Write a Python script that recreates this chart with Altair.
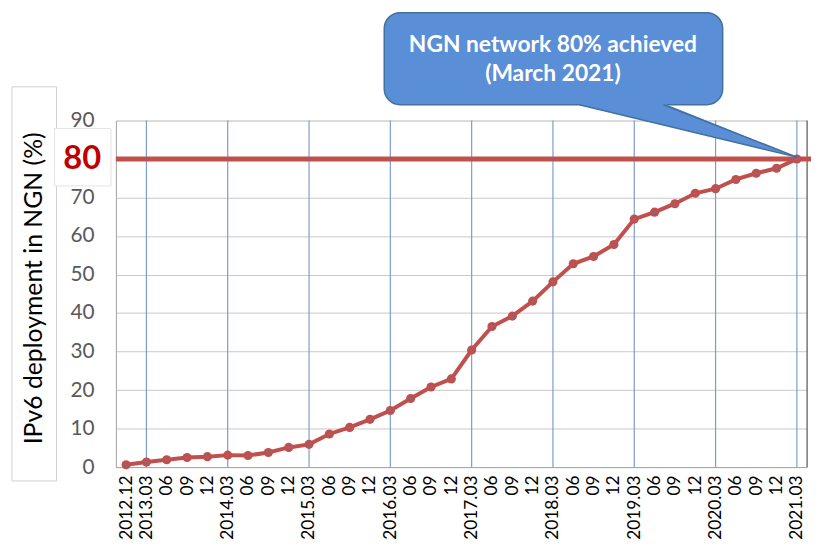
import json
import altair as alt
import pandas as pd

# ---------------- data ----------------
quarters = ["2012.12", "2013.03", "06", "09", "12", "2014.03", "06", "09", "12",
            "2015.03", "06", "09", "12", "2016.03", "06", "09", "12",
            "2017.03", "06", "09", "12", "2018.03", "06", "09", "12",
            "2019.03", "06", "09", "12", "2020.03", "06", "09", "12", "2021.03"]
deployment = [0.6, 1.3, 1.9, 2.5, 2.7, 3.1, 3.0, 3.8, 5.1, 5.9, 8.6, 10.3, 12.4, 14.7,
              17.8, 20.8, 22.9, 30.4, 36.5, 39.2, 43.1, 48.1, 52.8, 54.7, 57.8, 64.4,
              66.2, 68.4, 71.1, 72.3, 74.7, 76.3, 77.6, 80.0]
march_idx = [1, 5, 9, 13, 17, 21, 25, 29, 33]
target = 80
y_ticks = [0, 10, 20, 30, 40, 50, 60, 70, 80, 90]
callout_lines = ["NGN network 80% achieved", "(March 2021)"]
y_title = "IPv6 deployment in NGN (%)"

df = pd.DataFrame({"idx": list(range(len(quarters))), "value": deployment})

W, H = 698, 350
RED = "#C0504D"
FONT = "Lato"

label_expr = json.dumps(quarters) + "[datum.value]"
xscale = alt.Scale(domain=[-0.5, len(quarters) - 0.5], nice=False, zero=False)
yscale = alt.Scale(domain=[0, 90], nice=False)

x_axis = alt.Axis(values=list(range(len(quarters))), labelExpr=label_expr,
                  labelAngle=270, labelFontSize=17.5, labelColor="#000000",
                  labelFont=FONT, ticks=False, grid=False, labelPadding=8,
                  domainColor="#A6A6A6", title=None, labelOverlap=False,
                  labelFlush=False, labelBound=False)
y_axis = alt.Axis(values=y_ticks, labelExpr="datum.value == 80 ? '' : datum.label",
                  labelFontSize=21, labelColor="#595959", labelFont=FONT,
                  ticks=False, labelPadding=22, gridColor="#C8C8C8", grid=True,
                  domainColor="#A6A6A6", title=y_title, titleFont=FONT,
                  titleFontSize=25, titleFontWeight="normal", titleColor="#000000",
                  titleX=-83, titleY=169, titleAngle=270, titleAlign="center",
                  titleBaseline="middle", labelOverlap=False, labelFlush=False)


def X(field):
    return alt.X(field, type="quantitative", scale=xscale, axis=x_axis)


def Y(field):
    return alt.Y(field, type="quantitative", scale=yscale, axis=y_axis)


base = alt.Chart(df)

vgrid = alt.Chart(pd.DataFrame({"idx": march_idx})).mark_rule(
    color="#7C9CCB", strokeWidth=1.2).encode(x=X("idx"))

right_border = alt.Chart(pd.DataFrame({"idx": [len(quarters) - 0.5]})).mark_rule(
    color="#404040", strokeWidth=1).encode(x=X("idx"))

target_rule = alt.Chart(pd.DataFrame({"value": [target]})).mark_rule(
    color=RED, strokeWidth=5).encode(y=Y("value"), x=alt.value(0), x2=alt.value(W + 4))

line = base.mark_line(color=RED, strokeWidth=4).encode(x=X("idx"), y=Y("value"))
pts = base.mark_point(filled=True, color=RED, size=85, opacity=1).encode(
    x=X("idx"), y=Y("value"))
dots = base.mark_point(filled=True, color="#4F81BD", size=3, opacity=1).encode(
    x=X("idx"), y=Y("value"))

# callout (data coordinates)
box = alt.Chart(pd.DataFrame({"x": [12.7], "x2": [29.35], "y": [118.0], "y2": [94.1]})).mark_rect(
    fill="#5A8ED6", stroke="#41719C", strokeWidth=1.5, cornerRadius=16).encode(
    x=X("x"), x2="x2:Q", y=Y("y"), y2="y2:Q")

ptr = alt.Chart(pd.DataFrame({"x": [22.3, 26.44, 33.0],
                              "top": [94.5, 94.5, 80.5],
                              "bot": [94.1, 88.84, 80.5]})).mark_area(
    color="#5A8ED6", opacity=1).encode(x=X("x"), y=Y("top"), y2="bot:Q")

ptr_edges = alt.Chart(pd.DataFrame({"x": [22.3, 26.44], "y": [94.1, 94.1],
                                    "x2": [33.0, 33.0], "y2": [80.5, 80.5]})).mark_rule(
    color="#41719C", strokeWidth=1.5).encode(x=X("x"), x2="x2:Q", y=Y("y"), y2="y2:Q")

callout_text = alt.Chart(pd.DataFrame({"x": [21.0, 21.0], "y": [109.5, 102.1],
                                       "t": callout_lines})).mark_text(
    color="white", font=FONT, fontSize=23, fontWeight="bold", baseline="middle",
    align="center").encode(x=X("x"), y=Y("y"), text="t:N")

# y title frame and highlighted 80 label
title_box = alt.Chart(pd.DataFrame({"a": [0]})).mark_rect(
    fillOpacity=0, stroke="#D0D0D0", strokeWidth=1).encode(
    x=alt.value(-105), x2=alt.value(-60), y=alt.value(-34), y2=alt.value(364))

label_box = alt.Chart(pd.DataFrame({"a": [0]})).mark_rect(
    fill="white", stroke="#E3E3E3", strokeWidth=1).encode(
    x=alt.value(-62), x2=alt.value(-5), y=alt.value(8), y2=alt.value(66))

label80 = alt.Chart(pd.DataFrame({"value": [target], "t": [str(target)]})).mark_text(
    color="#C00000", font=FONT, fontSize=33, fontWeight="bold", baseline="middle",
    align="center").encode(x=alt.value(-34), y=Y("value"), text="t:N")

chart = alt.layer(
    line, vgrid, right_border, target_rule, pts, dots,
    box, ptr, ptr_edges, callout_text, title_box, label_box, label80
).properties(
    width=W, height=H,
    autosize=alt.AutoSizeParams(type="none"),
    padding={"left": 109, "top": 111, "right": 4, "bottom": 71},
).configure_view(stroke=None).configure(background="white")

chart.save("out.html", embed_options={"renderer": "svg", "actions": False})
